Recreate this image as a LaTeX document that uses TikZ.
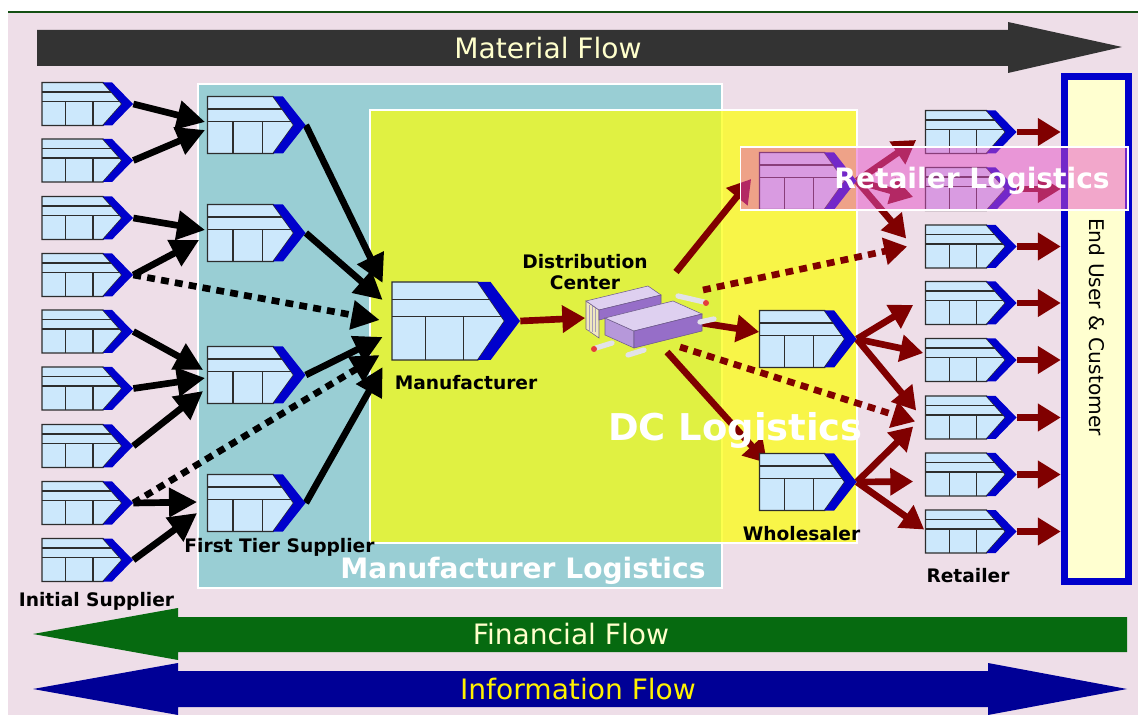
\documentclass[tikz,border=0pt]{standalone}
\usepackage{fontspec}
\setmainfont{DejaVu Sans}
\usetikzlibrary{arrows.meta,positioning,calc}

\definecolor{panelpink}{RGB}{238,222,232}
\definecolor{areateal}{RGB}{153,206,212}
\definecolor{areayellow}{RGB}{252,255,11}
\definecolor{matgray}{RGB}{51,51,51}
\definecolor{fingreen}{RGB}{6,106,16}
\definecolor{infoblue}{RGB}{0,0,150}
\definecolor{paleyellow}{RGB}{255,255,204}
\definecolor{boxblue}{RGB}{204,232,252}
\definecolor{boxedge}{RGB}{45,45,45}
\definecolor{chevblue}{RGB}{0,0,204}
\definecolor{darkred}{RGB}{128,0,0}
\definecolor{creamy}{RGB}{255,255,208}
\definecolor{retailpink}{RGB}{230,80,200}
\definecolor{topgreen}{RGB}{20,80,20}
\definecolor{dctop}{RGB}{222,208,240}
\definecolor{dcfront}{RGB}{150,110,200}
\definecolor{dcside}{RGB}{182,152,218}
\definecolor{dccream}{RGB}{240,232,190}
\definecolor{dcedge}{RGB}{110,90,140}
\definecolor{peggray}{RGB}{226,226,232}
\definecolor{pegred}{RGB}{228,60,60}

\pgfdeclarelayer{back}
\pgfdeclarelayer{links}
\pgfdeclarelayer{front}
\pgfsetlayers{back,links,main,front}

\tikzset{
        % Entity icon (width/height in px): table body + blue chevron
        pics/entity/.style args={#1/#2}{code={
            \filldraw[fill=boxblue, draw=boxedge, line width=0.8pt]
                (-0.5*#1,-0.5*#2) -- (0.17*#1,-0.5*#2) -- (0.38*#1,0) -- (0.17*#1,0.5*#2) -- (-0.5*#1,0.5*#2) -- cycle;
            \draw[boxedge, line width=0.7pt]
                (-0.5*#1,-0.28*#2) -- (0.262*#1,-0.28*#2)
                (-0.5*#1,-0.06*#2) -- (0.355*#1,-0.06*#2)
                (-0.24*#1,-0.06*#2) -- (-0.24*#1,0.5*#2)
                (0.06*#1,-0.06*#2) -- (0.06*#1,0.5*#2);
            \fill[chevblue] (0.17*#1,-0.5*#2) -- (0.27*#1,-0.5*#2) -- (0.5*#1,0) -- (0.27*#1,0.5*#2) -- (0.17*#1,0.5*#2) -- (0.38*#1,0) -- cycle;
            \node[inner sep=0pt, minimum width=#1*0.02cm, minimum height=#2*0.02cm] (-n) at (0,0) {};
        }},
        pics/entity/.default=91/43
}

\begin{document}
\begin{tikzpicture}[
            x=0.02cm, y=-0.02cm,
            link/.style={line width=3.8pt, -{Triangle[length=16pt,width=16pt]}},
            dotlink/.style={link, dash pattern=on 4.5pt off 3.5pt},
            flow/.style={line width=3.8pt, draw=darkred, -{Triangle[length=13pt,width=15pt]}},
            dotflow/.style={flow, dash pattern=on 4.5pt off 3.5pt},
            tag/.style={font=\bfseries\fontsize{10.6}{12}\selectfont, align=center, inner sep=0pt},
            flowtext/.style={font=\fontsize{16}{18}\selectfont, inner sep=0pt},
            areatext/.style={font=\bfseries\fontsize{16}{18}\selectfont, text=white, inner sep=0pt}
        ]
            \useasboundingbox (0,0) rectangle (1138,715);

            \begin{pgfonlayer}{back}
                \fill[white] (0,0) rectangle (1138,715);
                \fill[panelpink] (8,12) rectangle (1138,715);
                \draw[topgreen, line width=1.2pt] (8,12) -- (1138,12);
                % flow bands
                \fill[matgray] (37,30) -- (1008,30) -- (1008,22) -- (1122,47) -- (1008,73) -- (1008,66) -- (37,66) -- cycle;
                \fill[fingreen] (1127,617) -- (178,617) -- (178,608) -- (33,634) -- (178,660) -- (178,652) -- (1127,652) -- cycle;
                \fill[infoblue] (178,671) -- (988,671) -- (988,663) -- (1127,689) -- (988,715) -- (988,707)
                    -- (178,707) -- (178,715) -- (33,689) -- (178,663) -- cycle;
                % logistics areas
                \filldraw[fill=areateal, draw=white, line width=0.6pt] (198,84) rectangle (722,588);
                \filldraw[fill=areayellow, fill opacity=0.72, draw=white, line width=0.6pt] (370,110) rectangle (857,543);
            \end{pgfonlayer}

            \node[flowtext, text=paleyellow] (matflow) at (548,48) {Material Flow};
            \node[flowtext, text=paleyellow] (finflow) at (571,634) {Financial Flow};
            \node[flowtext, text=yellow] (infoflow) at (578,689) {Information Flow};

            % suppliers
            \foreach \i/\y in {1/104,2/160.5,3/218,4/275,5/331.5,6/388.5,7/446,8/503,9/560}
                \pic (s\i) at (87.5,\y) {entity};
            \foreach \i/\y in {1/125,2/233,3/375,4/503}
                \pic (f\i) at (256.5,\y) {entity=98/57};
            \pic (m) at (456,321) {entity=128/78};
            % wholesalers and retailers
            \foreach \i/\y in {1/181,2/339,3/482}
                \pic (w\i) at (808,\y) {entity=97/57};
            \foreach \i/\y in {1/132,2/189,3/246.5,4/303,5/360,6/417.5,7/474.5,8/531.5}
                \pic (r\i) at (971,\y) {entity};

            % distribution center unit
            \node[inner sep=0pt, minimum width=2.5cm, minimum height=1.6cm] (dc) at (648,318) {};
            \begin{scope}[shift={(dc.center)}, draw=dcedge, line width=0.3pt]
                \filldraw[fill=dccream] (-62,-17) -- (-49,-8) -- (-49,20) -- (-62,11) -- cycle;
                \foreach \u in {-59,-56,-53}
                    \draw[dcedge!60] (\u,-13) -- (\u,14);
                \filldraw[fill=dctop] (-62,-17) -- (0,-32) -- (13,-23) -- (-49,-8) -- cycle;
                \filldraw[fill=dcfront] (-49,-8) -- (13,-23) -- (13,-13) -- (-49,2) -- cycle;
                \filldraw[fill=dcside] (-43,0) -- (-14,13) -- (-14,30) -- (-43,17) -- cycle;
                \filldraw[fill=dctop] (-43,0) -- (25,-17) -- (54,-4) -- (-14,13) -- cycle;
                \filldraw[fill=dcfront] (-14,13) -- (54,-4) -- (54,13) -- (-14,30) -- cycle;
                \draw[peggray, line width=3pt, line cap=round]
                    (-36,25) -- (-52,30) (-4,32) -- (-20,37) (30,-22) -- (56,-16) (52,4) -- (66,1);
                \fill[pegred] (-54,31) circle (3) (58,-15) circle (3);
            \end{scope}

            % end user box
            \node[draw=chevblue, line width=4pt, fill=creamy, inner sep=0pt,
                  minimum width=1.28cm, minimum height=10.12cm] (eu) at (1096.3,329) {};
            \node[rotate=-90, font=\fontsize{11.5}{13}\selectfont, inner sep=0pt] (eutext) at (1097,327) {End User \& Customer};

            % labels
            \node[tag, below=0.2cm of s9-n, xshift=0.18cm] (lbls) {Initial Supplier};
            \node[tag, below=0.13cm of f4-n, xshift=0.46cm] (lblf) {First Tier Supplier};
            \node[tag, below=0.3cm of m-n, xshift=0.2cm] (lblm) {Manufacturer};
            \node[tag] (lbldc) at (585,272) {Distribution\\Center};
            \node[tag, below=0.3cm of w3-n, xshift=-0.13cm] (lblw) {Wholesaler};
            \node[tag, below=0.3cm of r8-n, xshift=-0.06cm] (lblr) {Retailer};

            \begin{pgfonlayer}{links}
                % supplier side
                \draw[link] (s1-n.east) -- ($(f1-n.west)+(-2,-3)$);
                \draw[link] (s2-n.east) -- ($(f1-n.west)+(-2,5)$);
                \draw[link] (s3-n.east) -- ($(f2-n.west)+(-2,-3)$);
                \draw[link] (s4-n.east) -- ($(f2-n.west)+(-8,7)$);
                \draw[link] (s5-n.east) -- ($(f3-n.west)+(-4,-5)$);
                \draw[link] (s6-n.east) -- ($(f3-n.west)+(-2,3)$);
                \draw[link] (s7-n.east) -- ($(f3-n.west)+(-4,16)$);
                \draw[link] (s8-n.east) -- ($(f4-n.west)+(-10,-1)$);
                \draw[link] (s9-n.east) -- ($(f4-n.west)+(-10,10)$);
                \draw[dotlink] (s4-n.east) -- ($(m-n.west)+(-12,-1)$);
                \draw[dotlink] (s8-n.east) -- ($(m-n.west)+(-12,34)$);
                \draw[link] (f1-n.east) -- ($(m-n.west)+(-9,-38)$);
                \draw[link] (f2-n.east) -- ($(m-n.west)+(-9,-21)$);
                \draw[link] (f3-n.east) -- ($(m-n.west)+(-9,16)$);
                \draw[link] (f4-n.east) -- ($(m-n.west)+(-9,46)$);
                % distribution side
                \draw[flow] (m-n.east) -- (dc.west);
                \draw[flow] ($(dc.center)+(28,-46)$) -- ($(w1-n.west)+(-8,-2)$);
                \draw[dotflow] ($(dc.center)+(55,-28)$) -- ($(r3-n.west)+(-18,0)$);
                \draw[flow] ($(dc.center)+(47,4)$) -- ($(w2-n.west)+(0,-7)$);
                \draw[dotflow] ($(dc.center)+(32,29)$) -- ($(r6-n.west)+(-10,4)$);
                \draw[flow] ($(dc.center)+(19,34)$) -- ($(w3-n.north west)+(8,10)$);
                \draw[flow] (w1-n.east) -- ($(r1-n.west)+(-9,8)$);
                \draw[flow] (w1-n.east) -- ($(r2-n.west)+(-12,8)$);
                \draw[flow] (w1-n.east) -- ($(r3-n.west)+(-19,-8)$);
                \draw[flow] (w2-n.east) -- ($(r4-n.west)+(-12,2)$);
                \draw[flow] (w2-n.east) -- ($(r5-n.west)+(-2,-7)$);
                \draw[flow] (w2-n.east) -- ($(r6-n.west)+(-9,-7)$);
                \draw[flow] (w3-n.east) -- ($(r6-n.west)+(-12,9)$);
                \draw[flow] (w3-n.east) -- ($(r7-n.west)+(-12,7)$);
                \draw[flow] (w3-n.east) -- ($(r8-n.west)+(-1,-2)$);
                \foreach \i in {1,...,8}
                    \draw[flow] (r\i-n.east) -- (r\i-n.east -| eu.west);
            \end{pgfonlayer}

            \begin{pgfonlayer}{front}
                \node[fill=retailpink, fill opacity=0.5, draw=white, line width=0.6pt, inner sep=0pt,
                      minimum width=7.76cm, minimum height=1.26cm] (rlog) at (934,178.5) {};
                \node[areatext] (rlogtext) at (972,181) {Retailer Logistics};
                \node[areatext, font=\bfseries\fontsize{21}{24}\selectfont] (dclog) at (735.5,430) {DC Logistics};
                \node[areatext] (mlog) at (523,571) {Manufacturer Logistics};
            \end{pgfonlayer}
        \end{tikzpicture}
\end{document}
